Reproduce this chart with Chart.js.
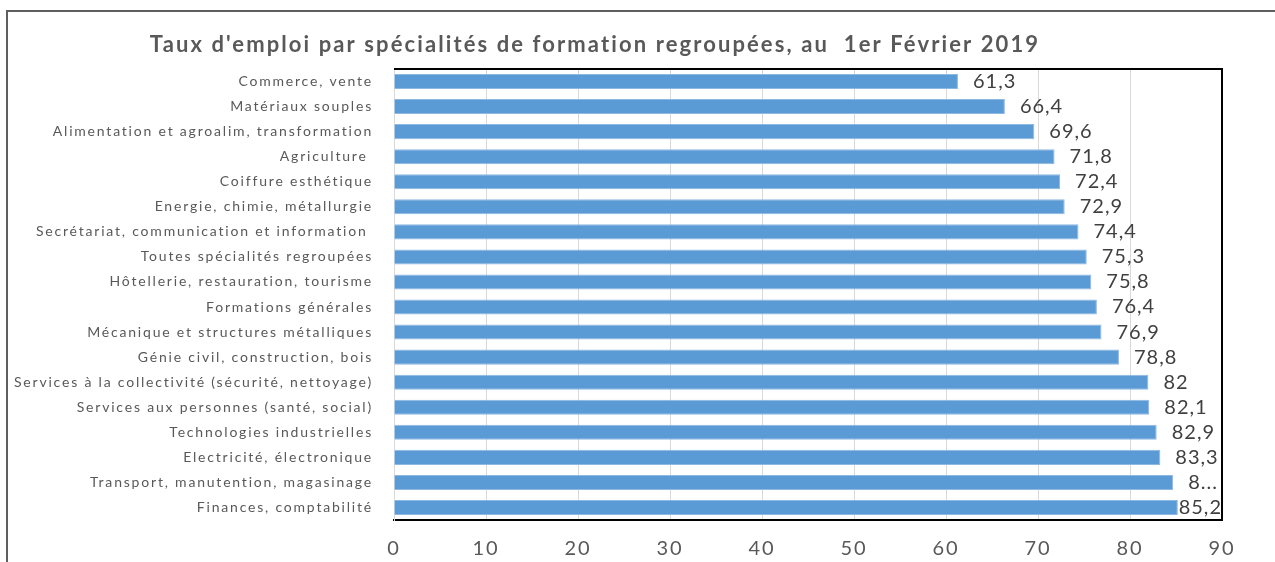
<!DOCTYPE html>
<html>
<head>
<meta charset="utf-8">
<script src="https://cdn.jsdelivr.net/npm/chart.js@4"></script>
<style>
  html, body { margin: 0; padding: 0; background: #fff; }
  #frame { position: absolute; left: 6px; top: 10px; width: 1275px; height: 560px;
           border-top: 2px solid #5f5f5f; border-left: 2px solid #5f5f5f; }
  #wrap { position: absolute; left: 0; top: 0; width: 1275px; height: 562px; }
</style>
</head>
<body>
<div id="frame"></div>
<div id="wrap"><canvas id="emploi"></canvas></div>
<script>
// Taux d'emploi par spécialité (ordre du graphique, de haut en bas)
const specialites = [
  'Commerce, vente',
  'Matériaux souples',
  'Alimentation et agroalim, transformation',
  'Agriculture ',
  'Coiffure esthétique',
  'Energie, chimie, métallurgie',
  'Secrétariat, communication et information ',
  'Toutes spécialités regroupées',
  'Hôtellerie, restauration, tourisme',
  'Formations générales',
  'Mécanique et structures métalliques',
  'Génie civil, construction, bois',
  'Services à la collectivité (sécurité, nettoyage)',
  'Services aux personnes (santé, social)',
  'Technologies industrielles',
  'Electricité, électronique',
  'Transport, manutention, magasinage',
  'Finances, comptabilité'
];
const tauxEmploi = [61.3, 66.4, 69.6, 71.8, 72.4, 72.9, 74.4, 75.3, 75.8, 76.4, 76.9, 78.8, 82, 82.1, 82.9, 83.3, 84.7, 85.2];
// étiquettes telles qu'affichées (l'avant-dernière est tronquée dans l'original)
const etiquettes = ['61,3', '66,4', '69,6', '71,8', '72,4', '72,9', '74,4', '75,3', '75,8', '76,4', '76,9', '78,8', '82', '82,1', '82,9', '83,3', '8...', '85,2'];
const ticksX = [0, 10, 20, 30, 40, 50, 60, 70, 80, 90];
const titre = "Taux d'emploi par spécialités de formation regroupées, au  1er Février 2019";

// espacement des lettres façon Calibri étiré (pour les libellés des axes)
const espacePlugin = {
  id: 'espace',
  beforeDraw(chart) {
    chart.ctx.letterSpacing = '1.8px';
  }
};

// titre dessiné à la main (il n'est pas centré sur le canvas)
const titrePlugin = {
  id: 'titre',
  afterDraw(chart) {
    const ctx = chart.ctx;
    ctx.save();
    ctx.letterSpacing = '2.1px';
    ctx.font = 'bold 22px Lato';
    ctx.fillStyle = '#595959';
    ctx.textAlign = 'center';
    ctx.textBaseline = 'middle';
    ctx.fillText(titre, 595, 45);
    ctx.restore();
  }
};

// valeurs à droite des barres (repoussées à l'intérieur du cadre si besoin) + cadre noir haut/droite
const etiquettesPlugin = {
  id: 'etiquettes',
  afterDatasetsDraw(chart) {
    const ctx = chart.ctx;
    const area = chart.chartArea;
    ctx.save();
    ctx.letterSpacing = '1px';
    ctx.font = '20px Lato';
    ctx.fillStyle = '#404040';
    ctx.textAlign = 'left';
    ctx.textBaseline = 'middle';
    chart.getDatasetMeta(0).data.forEach(function(bar, i) {
      const w = ctx.measureText(etiquettes[i]).width;
      const x = Math.min(bar.x + 15, area.right - w);
      ctx.fillText(etiquettes[i], x, bar.y);
    });
    ctx.strokeStyle = '#000';
    ctx.lineWidth = 2;
    ctx.beginPath();
    ctx.moveTo(area.left, area.top);
    ctx.lineTo(area.right, area.top);
    ctx.lineTo(area.right, area.bottom);
    ctx.stroke();
    ctx.restore();
  }
};

const ctx = document.getElementById('emploi').getContext('2d');
const chart = new Chart(ctx, {
  type: 'bar',
  data: {
    labels: specialites,
    datasets: [{
      data: tauxEmploi,
      backgroundColor: '#5B9BD5',
      borderColor: '#8DB8E2',
      borderWidth: 1,
      barPercentage: 0.6,
      categoryPercentage: 1
    }]
  },
  options: {
    indexAxis: 'y',
    responsive: true,
    maintainAspectRatio: false,
    animation: false,
    layout: { padding: { top: 69, right: 53, bottom: 0, left: 0 } },
    plugins: {
      legend: { display: false },
      tooltip: { enabled: false }
    },
    scales: {
      x: {
        min: 0,
        max: 90,
        afterBuildTicks: function(scale) {
          scale.ticks = ticksX.map(v => ({ value: v }));
        },
        afterFit: function(scale) { scale.height = 42; },
        grid: { color: '#D9D9D9', drawTicks: false },
        border: { color: '#000', width: 2 },
        ticks: { color: '#595959', font: { family: 'Lato', size: 20 }, padding: 17 }
      },
      y: {
        afterFit: function(scale) { scale.width = 394; },
        grid: { display: false, drawTicks: false },
        border: { color: '#D9D9D9', width: 1 },
        ticks: { color: '#595959', font: { family: 'Lato', size: 14 }, padding: 21, autoSkip: false }
      }
    }
  },
  plugins: [espacePlugin, titrePlugin, etiquettesPlugin]
});
</script>
</body>
</html>
